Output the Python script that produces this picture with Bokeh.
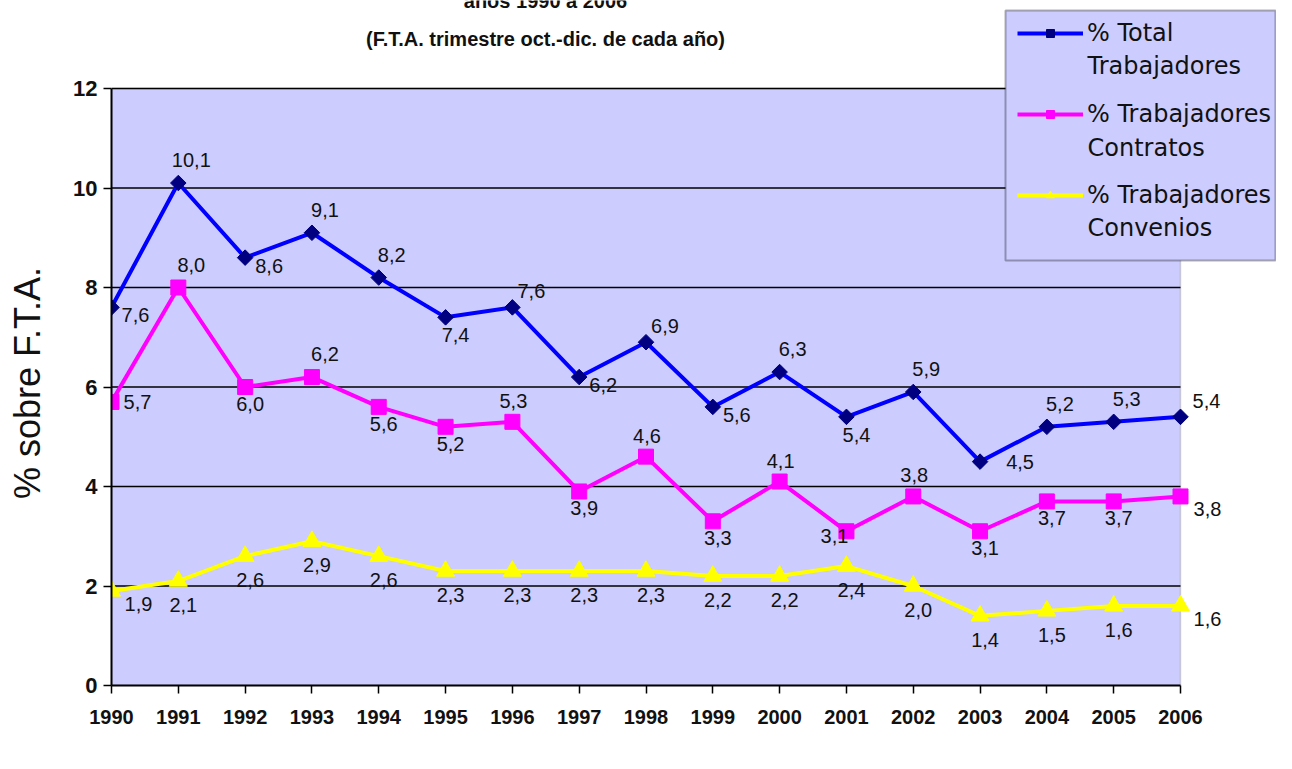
from bokeh.plotting import figure
from bokeh.models import (Range1d, FixedTicker, ColumnDataSource, LabelSet, Label,
                          Legend, LegendItem, BoxAnnotation)
from bokeh.core.properties import value
from bokeh.embed import file_html
from bokeh.resources import INLINE
import math

# ---------------- data ----------------
years = list(range(1990, 2007))
total = [7.6, 10.1, 8.6, 9.1, 8.2, 7.4, 7.6, 6.2, 6.9, 5.6, 6.3, 5.4, 5.9, 4.5, 5.2, 5.3, 5.4]
contratos = [5.7, 8.0, 6.0, 6.2, 5.6, 5.2, 5.3, 3.9, 4.6, 3.3, 4.1, 3.1, 3.8, 3.1, 3.7, 3.7, 3.8]
convenios = [1.9, 2.1, 2.6, 2.9, 2.6, 2.3, 2.3, 2.3, 2.3, 2.2, 2.2, 2.4, 2.0, 1.4, 1.5, 1.6, 1.6]
y_ticks = [0, 2, 4, 6, 8, 10, 12]
series_first = ["% Total", "% Trabajadores", "% Trabajadores"]
series_second = ["Trabajadores", "Contratos", "Convenios"]
title_lines = ["años 1990 a 2006", "(F.T.A. trimestre oct.-dic. de cada año)"]
y_label = "% sobre F.T.A."

# ---------------- label placement (style) ----------------
place_total = ["t", "a", "t", "a", "a", "b", "A", "t", "A", "t", "a", "b", "a", "R", "a", "a", "q"]
place_contr = ["m", "a", "d", "a", "d", "d", "c", "d", "c", "d", "c", "l", "c", "d", "d", "d", "r"]
place_conv = ["r"] + ["B"] * 15 + ["r"]
OFFSETS = {
    "a": (13, 23), "A": (19, 16), "c": (1, 21), "b": (10, -18), "d": (5, -17),
    "B": (5, -24), "t": (24, -8), "r": (27, -13), "R": (40, 0), "m": (26, 0),
    "q": (26, 16), "l": (-12, -5),
}

FONT = "Liberation Sans"

# layout (canvas pixels): plot area spans x 111..1180, y 88..685
W, H = 1276, 753
LEFT, BOTTOM = 111, 68
AREA_W, AREA_H = 1069, 597
FRAME_H = H - BOTTOM
px_per_year = AREA_W / (years[-1] - years[0])
px_per_unit = AREA_H / (y_ticks[-1] - y_ticks[0])
x_end = years[0] + (W - LEFT) / px_per_year
y_end = y_ticks[0] + FRAME_H / px_per_unit


def sx(cx):  # canvas x -> data x
    return years[0] + (cx - LEFT) / px_per_year


def sy(cy):  # canvas y -> data y
    return y_ticks[0] + (FRAME_H - cy) / px_per_unit


p = figure(width=W, height=H, x_range=Range1d(years[0], x_end), y_range=Range1d(y_ticks[0], y_end),
           output_backend="svg", toolbar_location=None,
           min_border_left=LEFT, min_border_right=0, min_border_top=0, min_border_bottom=BOTTOM)
p.background_fill_color = "white"
p.border_fill_color = "white"
p.outline_line_color = None
p.xgrid.visible = False
p.ygrid.visible = False

# plot area
p.add_layout(BoxAnnotation(left=years[0], right=years[-1], bottom=y_ticks[0], top=y_ticks[-1],
                           fill_color="#ccccff", fill_alpha=1, line_color="#808080",
                           line_width=1.5, level="underlay"))
# horizontal grid lines
p.segment(x0=[years[0]] * (len(y_ticks) - 1), x1=[years[-1]] * (len(y_ticks) - 1),
          y0=y_ticks[1:], y1=y_ticks[1:], line_color="black", line_width=1.5)

p.yaxis.ticker = FixedTicker(ticks=y_ticks)
p.xaxis.ticker = FixedTicker(ticks=years)
p.yaxis.bounds = (y_ticks[0], y_ticks[-1])
p.xaxis.bounds = (years[0], years[-1])
for ax in (p.xaxis[0], p.yaxis[0]):
    ax.minor_tick_line_color = None
    ax.major_tick_in = 0
    ax.major_tick_out = 8
    ax.major_tick_line_color = "black"
    ax.major_tick_line_width = 1.5
    ax.axis_line_color = "black"
    ax.axis_line_width = 2
    ax.major_label_text_color = "#111111"

p.yaxis.major_label_text_font = FONT
p.yaxis.major_label_text_font_style = "bold"
p.yaxis.major_label_text_font_size = "22px"
p.yaxis.major_label_standoff = 6
# trailing no-break spaces centre the rotated title on the 0-12 part of the axis
p.yaxis.axis_label = y_label + "\u00a0" * 8
p.yaxis.axis_label_text_font = FONT
p.yaxis.axis_label_text_font_style = "normal"
p.yaxis.axis_label_text_font_size = "36px"
p.yaxis.axis_label_text_color = "#111111"
p.yaxis.axis_label_standoff = 22

p.xaxis.major_label_text_font = FONT
p.xaxis.major_label_text_font_style = "bold"
p.xaxis.major_label_text_font_size = "20px"
p.xaxis.major_label_standoff = 16

# ---------------- series ----------------
specs = [
    (total, "#0000ff", "square", "#000080", 11, math.pi / 4, place_total),
    (contratos, "#ff00ff", "square", "#ff00ff", 15, 0, place_contr),
    (convenios, "#ffff00", "triangle", "#ffff00", 18, 0, place_conv),
]
items = []
for (vals, lc, mk, mc, ms, ang, places), name in zip(specs, series_first):
    src = ColumnDataSource(dict(
        x=years, y=vals,
        txt=[f"{v:.1f}".replace(".", ",") for v in vals],
        dx=[OFFSETS[c][0] for c in places],
        dy=[OFFSETS[c][1] for c in places],
    ))
    ln = p.line("x", "y", source=src, line_color=lc, line_width=4)
    sc = p.scatter("x", "y", source=src, marker=mk, size=ms, angle=ang,
                   fill_color=mc, line_color=mc)
    items.append(LegendItem(label=name, renderers=[ln, sc]))
    p.add_layout(LabelSet(x="x", y="y", text="txt", x_offset="dx", y_offset="dy",
                          source=src, text_align="center", text_baseline="middle",
                          text_font=value(FONT), text_font_size=value("20px"),
                          text_color="#111111"))

# ---------------- title ----------------
p.add_layout(Label(x=434, y=FRAME_H, x_units="screen", y_units="screen", text=title_lines[0],
                   text_align="center", text_baseline="alphabetic", text_font=FONT,
                   text_font_style="bold", text_font_size="20px", text_color="#111111"))
p.add_layout(Label(x=434, y=FRAME_H - 38, x_units="screen", y_units="screen", text=title_lines[1],
                   text_align="center", text_baseline="middle", text_font=FONT,
                   text_font_style="bold", text_font_size="20px", text_color="#111111"))

# ---------------- legend ----------------
p.add_layout(BoxAnnotation(left=sx(1005), right=sx(1275), top=sy(10), bottom=sy(260),
                           fill_color="#ccccff", fill_alpha=1, line_color="black",
                           line_width=2, level="annotation"))
legend = Legend(items=items, location=(906, FRAME_H - 209),
                label_text_font="DejaVu Sans", label_text_font_size="24px",
                label_text_color="#111111",
                glyph_width=66, glyph_height=20, label_standoff=4, spacing=53,
                padding=0, margin=0, border_line_color=None,
                background_fill_alpha=0)
p.add_layout(legend)
for txt, cy in zip(series_second, [65, 147, 227]):
    p.add_layout(Label(x=976, y=FRAME_H - cy, x_units="screen", y_units="screen", text=txt,
                       text_align="left", text_baseline="middle", text_font="DejaVu Sans",
                       text_font_size="24px", text_color="#111111"))

open("out.html", "w").write(file_html(p, INLINE))
